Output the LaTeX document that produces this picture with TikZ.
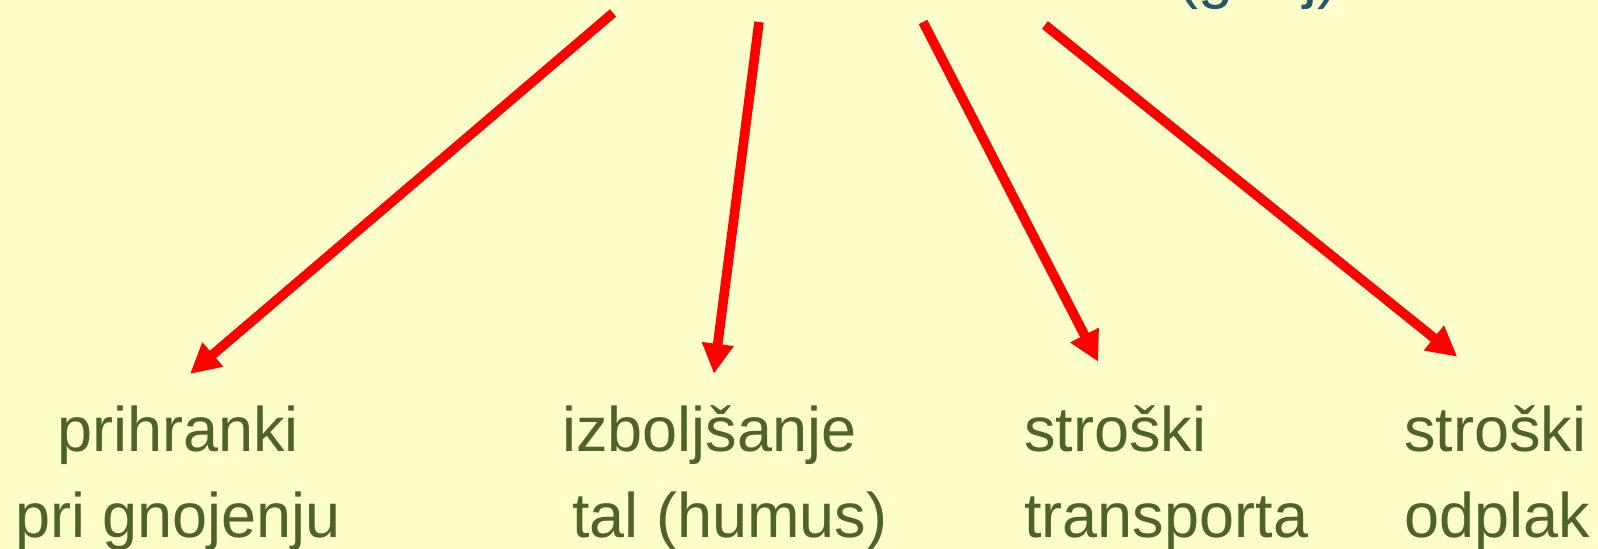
\documentclass[tikz,border=0pt]{standalone}
\usepackage{fontspec}
\setmainfont{Liberation Sans}
\usetikzlibrary{arrows.meta}
\definecolor{paper}{RGB}{255,255,204}
\definecolor{labelgreen}{RGB}{79,98,40}
\definecolor{topteal}{RGB}{33,89,104}
\tikzstyle{result} = [text=labelgreen, font=\fontsize{31.5}{43}\selectfont, inner sep=0pt, align=left, anchor=base west]
\tikzstyle{source} = [text=topteal, font=\fontsize{31.5}{43}\selectfont, inner sep=0pt, anchor=base west]
\tikzstyle{arrow} = [line width=4.8pt, draw=red, -{Triangle[length=15pt, width=15pt]}]
\begin{document}
\begin{tikzpicture}[x=0.5pt, y=-0.5pt]
\fill [paper] (0,0) rectangle (1598,549);
\useasboundingbox (0,0) rectangle (1598,549);

\node (gnoj) [source] at (1177,-3) {(gnoj)};
\coordinate (start 1) at (613,13);
\coordinate (start 2) at (759,22);
\coordinate (start 3) at (923,22);
\coordinate (start 4) at (1045,25);

\node (prihranki) [result, align=center, anchor=base] at (178,537) {prihranki\\pri gnojenju};
\node (izboljsanje) [result] at (562,537) {izboljšanje\\\hspace*{5pt}tal (humus)};
\node (stroski transporta) [result] at (1024,537) {stroški\\transporta};
\node (stroski odplak) [result] at (1404,537) {stroški\\odplak};

\draw [arrow] (start 1) -- ([xshift=6pt, yshift=15.5pt]prihranki.north);
\draw [arrow] (start 2) -- ([xshift=-5.5pt, yshift=15.5pt]izboljsanje.north);
\draw [arrow] (start 3) -- ([xshift=-34pt, yshift=21.5pt]stroski transporta.north);
\draw [arrow] (start 4) -- ([xshift=-20pt, yshift=24pt]stroski odplak.north);

\end{tikzpicture}
\end{document}
